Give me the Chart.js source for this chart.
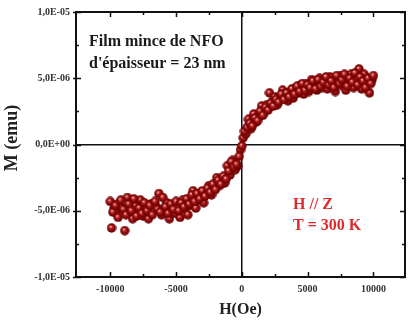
<!DOCTYPE html>
<html>
<head>
<meta charset="utf-8">
<script src="https://cdn.jsdelivr.net/npm/chart.js@4"></script>
<style>
    body { margin: 0; background: #fff; }
    #box { width: 411px; height: 323px; }
</style>
</head>
<body>
<div id="box"><canvas id="loopChart"></canvas></div>
<script>
// field in Oe, moment in units of 1E-06 emu
var fieldA = [-10000,-9800,-9600,-9400,-9200,-9000,-8800,-8600,-8400,-8200,-8000,-7800,-7600,-7400,-7200,-7000,-6800,-6600,-6400,-6200,
    -6000,-5800,-5600,-5400,-5200,-5000,-4800,-4600,-4400,-4200,-4000,-3800,-3600,-3400,-3200,-3000,-2800,-2600,-2400,-2200,
    -2000,-1800,-1600,-1400,-1200,-1000,-800,-600,-400,-200,0,200,400,600,800,1000,1200,1400,1600,1800,
    2000,2200,2400,2600,2800,3000,3200,3400,3600,3800,4000,4200,4400,4600,4800,5000,5200,5400,5600,5800,
    6000,6200,6400,6600,6800,7000,7200,7400,7600,7800,8000,8200,8400,8600,8800,9000,9200,9400,9600,9800,10000]
var momentA = [-4.3,-5.1,-4.6,-5.5,-4.2,-4.9,-5.3,-4.5,-5.0,-4.1,-5.4,-4.8,-5.2,-4.4,-5.0,-4.6,-5.3,-4.3,-4.9,-5.1,
    -4.0,-4.7,-5.2,-4.5,-4.9,-4.3,-5.0,-4.4,-4.7,-4.1,-4.5,-3.8,-4.3,-3.7,-4.1,-3.5,-3.9,-3.3,-3.6,-3.0,
    -3.4,-2.7,-3.0,-2.4,-2.6,-2.0,-1.3,-1.7,-1.5,-0.9,-0.1,1.0,1.3,1.6,1.4,2.0,1.8,2.5,2.2,2.8,
    2.6,3.1,2.9,3.4,3.2,3.8,3.4,3.9,3.6,4.2,3.8,4.4,4.0,4.6,4.1,4.5,4.3,4.8,4.2,4.9,
    4.4,4.7,5.1,4.5,4.8,4.3,5.2,4.6,4.9,5.3,4.4,5.0,4.7,5.4,4.5,5.1,4.8,4.3,5.0,4.6,5.2]

var fieldB = [-9900,-9700,-9500,-9300,-9100,-8900,-8700,-8500,-8300,-8100,-7900,-7700,-7500,-7300,-7100,-6900,-6700,-6500,-6300,-6100,
    -5900,-5700,-5500,-5300,-5100,-4900,-4700,-4500,-4300,-4100,-3900,-3700,-3500,-3300,-3100,-2900,-2700,-2500,-2300,-2100,
    -1900,-1700,-1500,-1300,-1100,-900,-700,-500,-300,-100,100,300,500,700,900,1100,1300,1500,1700,1900,
    2100,2300,2500,2700,2900,3100,3300,3500,3700,3900,4100,4300,4500,4700,4900,5100,5300,5500,5700,5900,
    6100,6300,6500,6700,6900,7100,7300,7500,7700,7900,8100,8300,8500,8700,8900,9100,9300,9500,9700,9900]
var momentB = [-6.3,-4.8,-5.2,-4.4,-4.8,-6.5,-4.0,-5.0,-5.6,-4.6,-5.1,-4.2,-5.4,-4.8,-5.6,-4.5,-5.0,-4.7,-3.7,-5.3,
    -4.8,-4.4,-5.6,-4.6,-5.2,-4.8,-5.5,-4.2,-4.9,-5.3,-4.6,-3.5,-4.8,-4.2,-3.6,-4.4,-3.7,-3.1,-3.8,-3.3,
    -2.5,-3.1,-2.6,-2.9,-1.6,-2.3,-1.2,-1.9,-1.6,-0.4,0.5,0.8,1.9,1.2,2.3,1.7,2.1,2.9,2.4,3.0,
    3.9,3.2,3.6,3.0,3.5,4.1,3.7,3.3,4.0,3.5,4.3,3.9,4.5,3.8,4.6,4.0,4.9,4.4,4.1,5.0,
    4.3,4.6,4.2,5.1,4.7,4.0,4.9,5.2,4.4,4.1,4.8,5.3,4.3,5.0,5.7,4.2,5.3,4.6,3.9,4.9]

var xMajorTicks = [-10000, -5000, 0, 5000, 10000]
var xMinorTicks = [-7500, -2500, 2500, 7500]
var yMajorTicks = [-10, -5, 0, 5, 10]
var yMinorTicks = [-7.5, -2.5, 2.5, 7.5]
var yTickLabels = ['-1,0E-05', '-5,0E-06', '0,0E+00', '5,0E-06', '1,0E-05']

var serif = '"Liberation Serif", "Times New Roman", serif'

function toPoints(xs, ys){
    var list = []
    for(var pos = 0; pos < xs.length; pos++){
        list.push({x: xs[pos], y: ys[pos]})
    }
    return list
}

// little shaded ball used as point style
function makeBall(){
    var c = document.createElement('canvas')
    c.width = 10
    c.height = 10
    var ctx = c.getContext('2d')
    var g = ctx.createRadialGradient(4, 3.6, 0.2, 5, 5, 5)
    g.addColorStop(0, '#ffd8d8')
    g.addColorStop(0.22, '#c23a3a')
    g.addColorStop(0.55, '#920808')
    g.addColorStop(1, '#5a0000')
    ctx.fillStyle = g
    ctx.beginPath()
    ctx.arc(5, 5, 4.7, 0, Math.PI * 2)
    ctx.fill()
    return c
}
var ball = makeBall()

// frame, inward ticks, y title and the two text blocks
var framePlugin = {
    id: 'frame',
    afterDraw(chart){
        var ctx = chart.ctx
        var a = chart.chartArea
        var xs = chart.scales.x
        var ys = chart.scales.y
        ctx.save()
        ctx.strokeStyle = '#111'
        ctx.lineWidth = 1.5
        ctx.beginPath()
        xMajorTicks.concat(xMinorTicks).forEach(function(v){
            var len = xMajorTicks.indexOf(v) >= 0 ? 5 : 3
            var px = Math.round(xs.getPixelForValue(v)) + 0.5
            ctx.moveTo(px, a.bottom); ctx.lineTo(px, a.bottom - len)
            ctx.moveTo(px, a.top); ctx.lineTo(px, a.top + len)
        })
        yMajorTicks.concat(yMinorTicks).forEach(function(v){
            var major = yMajorTicks.indexOf(v) >= 0
            var len = major ? 5 : 3
            var py = Math.round(ys.getPixelForValue(v)) + 0.5
            ctx.moveTo(a.left - (major ? 3 : 0), py); ctx.lineTo(a.left + len, py)
            ctx.moveTo(a.right, py); ctx.lineTo(a.right - len, py)
        })
        ctx.stroke()
        ctx.lineWidth = 2
        ctx.strokeRect(a.left, a.top, a.right - a.left, a.bottom - a.top)

        ctx.textBaseline = 'middle'
        ctx.textAlign = 'left'
        ctx.font = 'bold 16px ' + serif
        ctx.fillStyle = '#1a1a1a'
        ctx.fillText('Film mince de NFO', 89, 42)
        ctx.fillText("d'épaisseur = 23 nm", 89, 64)
        ctx.fillStyle = '#dd2a2e'
        ctx.fillText('H // Z', 293, 205)
        ctx.fillText('T = 300 K', 293, 226)

        ctx.translate(12, 138)
        ctx.rotate(-Math.PI / 2)
        ctx.textAlign = 'center'
        ctx.font = 'bold 18px ' + serif
        ctx.fillStyle = '#222'
        ctx.fillText('M (emu)', 0, 0)
        ctx.restore()
    }
}

function zeroLine(context){
    return context.tick && context.tick.value === 0 ? '#111' : 'rgba(0,0,0,0)'
}

new Chart(document.getElementById('loopChart'), {
    type: 'scatter',
    data: {
        datasets: [{
            label: 'A',
            data: toPoints(fieldA, momentA),
            pointStyle: ball,
            pointRadius: 5
        }, {
            label: 'B',
            data: toPoints(fieldB, momentB),
            pointStyle: ball,
            pointRadius: 5
        }]
    },
    options: {
        responsive: true,
        maintainAspectRatio: false,
        animation: false,
        layout: {
            padding: {top: 11, right: 5, left: 0, bottom: 0}
        },
        plugins: {
            legend: {display: false},
            tooltip: {enabled: false}
        },
        scales: {
            x: {
                type: 'linear',
                min: -12600,
                max: 12400,
                afterBuildTicks: function(scale){
                    scale.ticks = xMajorTicks.map(function(v){ return {value: v} })
                },
                afterFit: function(scale){
                    scale.height = 46
                },
                border: {display: false},
                grid: {
                    drawTicks: false,
                    color: zeroLine,
                    lineWidth: 1.5
                },
                ticks: {
                    padding: 6,
                    color: '#333',
                    font: {family: serif, size: 10, weight: 'bold'},
                    callback: function(v){ return String(v) }
                },
                title: {
                    display: true,
                    text: 'H(Oe)',
                    color: '#222',
                    font: {family: serif, size: 16, weight: 'bold'},
                    padding: {top: 0, bottom: 4}
                }
            },
            y: {
                type: 'linear',
                min: -10,
                max: 10,
                afterBuildTicks: function(scale){
                    scale.ticks = yMajorTicks.map(function(v){ return {value: v} })
                },
                afterFit: function(scale){
                    scale.width = 76
                },
                border: {display: false},
                grid: {
                    drawTicks: false,
                    color: zeroLine,
                    lineWidth: 1.5
                },
                ticks: {
                    padding: 6,
                    color: '#333',
                    font: {family: serif, size: 10, weight: 'bold'},
                    callback: function(v){ return yTickLabels[yMajorTicks.indexOf(v)] }
                },
                title: {display: false}
            }
        }
    },
    plugins: [framePlugin]
})
</script>
</body>
</html>
